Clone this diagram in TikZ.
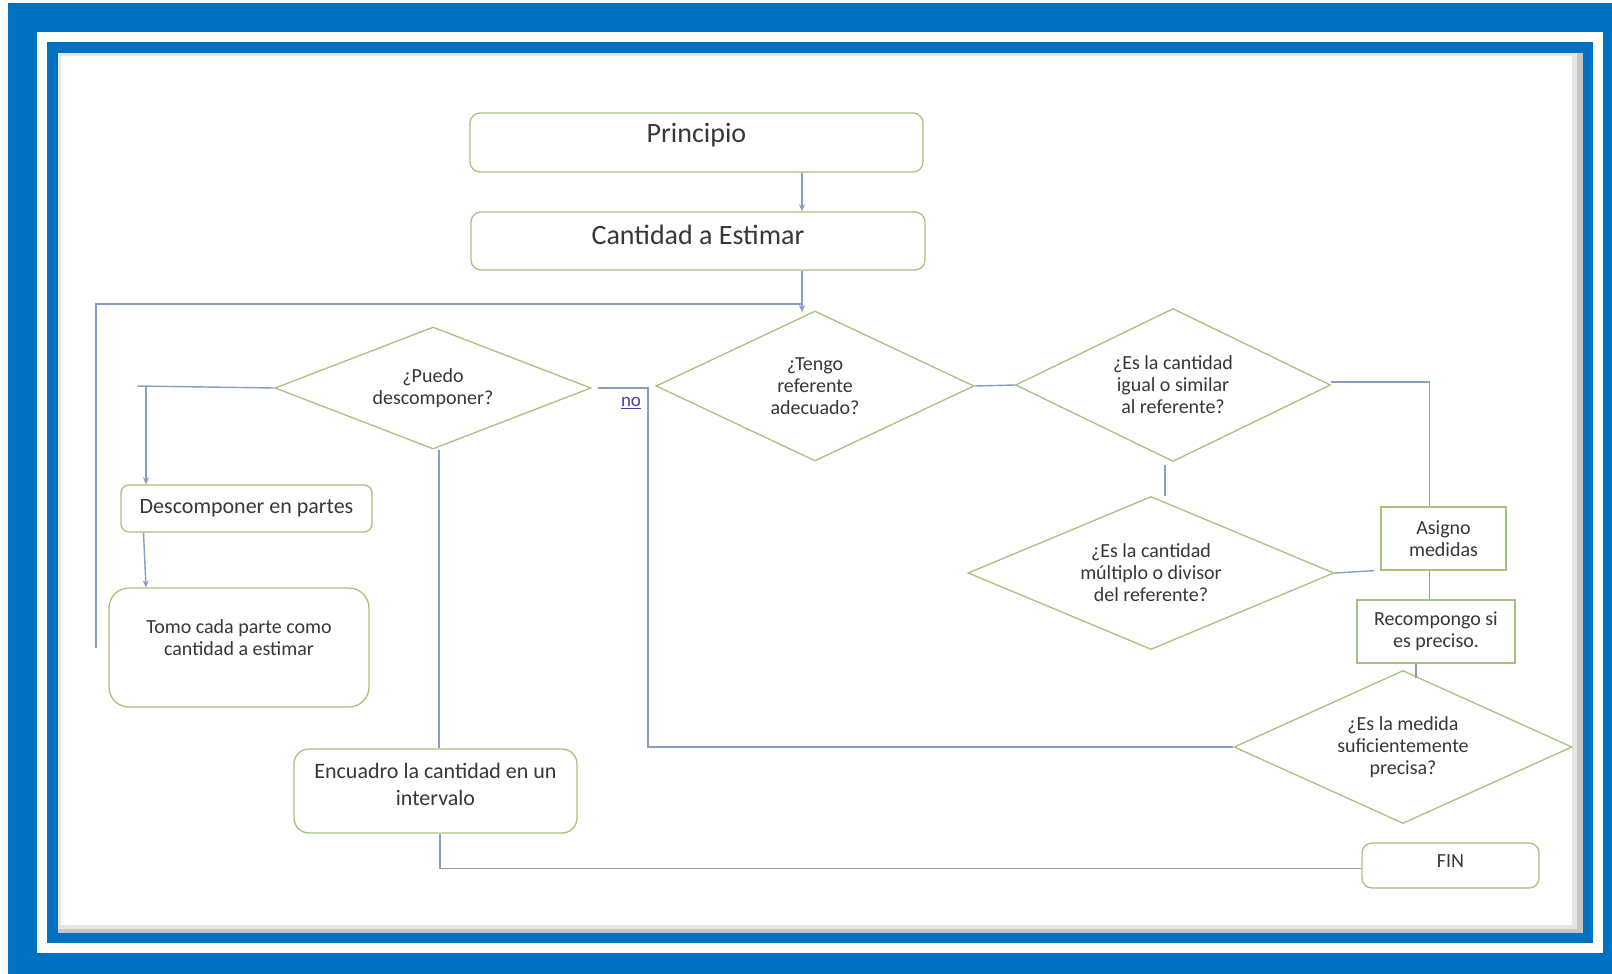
\documentclass[tikz,border=0pt]{standalone}
\usepackage{fontspec}
\setmainfont{Carlito}
\usetikzlibrary{shapes.geometric,arrows.meta}
\definecolor{frameblue}{RGB}{0,112,192}
\definecolor{flowline}{RGB}{135,158,195}
\definecolor{boxedge}{RGB}{165,195,125}
\definecolor{ink}{RGB}{55,55,55}
\definecolor{linkno}{RGB}{80,60,170}
\begin{document}
\begin{tikzpicture}[x=1pt,y=-1pt,
  flow/.style={draw=flowline,line width=1.4pt},
  tip/.style={-{Stealth[length=7pt,width=6pt]}},
  txt/.style={text=ink,align=center,font=\fontsize{20}{22}\selectfont},
  txtbig/.style={text=ink,align=center,font=\fontsize{28}{32}\selectfont},
  txtwide/.style={text=ink,align=center,font=\fontsize{22}{27}\selectfont},
  box/.style={draw=boxedge,line width=1.3pt,fill=white,inner sep=0pt,txt},
  decision/.style={diamond,aspect=2,draw=boxedge,line width=1.3pt,fill=white,inner sep=0pt,txt},
]
\useasboundingbox (0,0) rectangle (1612,974);

% double blue frame with a soft shadow inside
\fill[white] (0,0) rectangle (1612,974);
\fill[frameblue] (8,3) rectangle (1612,974);
\fill[white] (37,32) rectangle (1603,953);
\fill[frameblue] (47,42) rectangle (1593,943);
\fill[gray!45] (58,53) rectangle (1583,933);
\fill[gray!20] (58,53) rectangle (1577,929);
\fill[white] (61,56) rectangle (1572,925);

% process boxes
\node[box,rounded corners=10pt,minimum width=453pt,minimum height=59pt,
  label={[txtbig,yshift=7pt]center:Principio}] (principio) at (696.5,142.5) {};
\node[box,rounded corners=10pt,minimum width=454pt,minimum height=58pt,
  label={[txtbig,yshift=6pt]center:Cantidad a Estimar}] (cantidad) at (698,241) {};
\node[box,rounded corners=8pt,minimum width=251pt,minimum height=47pt,txtwide]
  (descomp) at (246.5,508.5) {Descomponer en partes};
\node[box,rounded corners=20pt,minimum width=260pt,minimum height=119pt,
  label={[txt,yshift=10pt]center:Tomo cada parte como\\cantidad a estimar}] (tomo) at (239,647.5) {};
\node[box,rounded corners=15pt,minimum width=283pt,minimum height=84pt,
  label={[txtwide,yshift=6.5pt]center:Encuadro la cantidad en un\\intervalo}] (encuadro) at (435.5,791) {};
\node[box,minimum width=125pt,minimum height=63pt] (asigno) at (1443.5,538.5) {Asigno\\medidas};
\node[box,minimum width=158pt,minimum height=63pt] (recomp) at (1436,631.5) {Recompongo si\\es preciso.};
\node[box,rounded corners=10pt,minimum width=177pt,minimum height=45pt,
  label={[txt,yshift=4pt]center:FIN}] (fin) at (1450.5,865.5) {};

% decisions
\node[decision,minimum width=316pt,minimum height=122pt] (puedo) at (433,388) {¿Puedo\\descomponer?};
\node[decision,minimum width=318pt,minimum height=150pt] (tengo) at (815,386) {¿Tengo\\referente\\adecuado?};
\node[decision,minimum width=315pt,minimum height=153pt] (igual) at (1173,385) {¿Es la cantidad\\igual o similar\\al referente?};
\node[decision,minimum width=366pt,minimum height=153pt] (multiplo) at (1151,573) {¿Es la cantidad\\múltiplo o divisor\\del referente?};
\node[decision,minimum width=338pt,minimum height=153pt] (medida) at (1403,747) {¿Es la medida\\suficientemente\\precisa?};

% junction points of the connectors
\coordinate (trunk) at (802,304);
\coordinate (loopend) at (96,648);
\coordinate (split) at (146,386);
\coordinate (noturn) at (648,388);

% main trunk and the return loop
\draw[flow,tip] (trunk |- principio.south) -- (trunk |- cantidad.north);
\draw[flow,tip] (trunk |- cantidad.south) -- ([yshift=-8pt]trunk);
\draw[flow] (loopend) |- (trunk);

% decomposition branch
\draw[flow] (puedo.west) -- ([xshift=-9pt]split);
\draw[flow,tip] (split) -- (split |- descomp.north);
\draw[flow,tip] ([xshift=-103pt]descomp.south) -- ([xshift=-93pt]tomo.north);
\draw[flow] ([xshift=6pt]puedo.south) -- ([xshift=6pt]puedo.south |- encuadro.north);
\draw[flow] ([xshift=4.5pt]encuadro.south) |- ([yshift=-3pt]fin.west);

% reference branch
\draw[flow] (tengo.east) -- (igual.west);
\draw[flow] ([yshift=3pt]igual.east) -| ([xshift=-14pt]asigno.north);
\draw[flow] ([xshift=-8pt,yshift=-3pt]igual.south) -- ([xshift=-8pt]igual.south |- multiplo.north);
\draw[flow] (multiplo.east) -- ([xshift=-6pt]asigno.south west);
\draw[flow] ([xshift=-14pt]asigno.south) -- ([xshift=-14pt]asigno.south |- recomp.north);
\draw[flow] ([xshift=-20pt]recomp.south) -- ([xshift=-20pt,yshift=-8pt]recomp.south |- medida.north);

% not precise enough: back to the decomposition question
\draw[flow] (medida.west) -| (noturn) -- ([xshift=6pt]puedo.east);
\node[text=linkno,font=\fontsize{19}{20}\selectfont] (nolabel) at (631,403) {\underline{no}};
\end{tikzpicture}
\end{document}
